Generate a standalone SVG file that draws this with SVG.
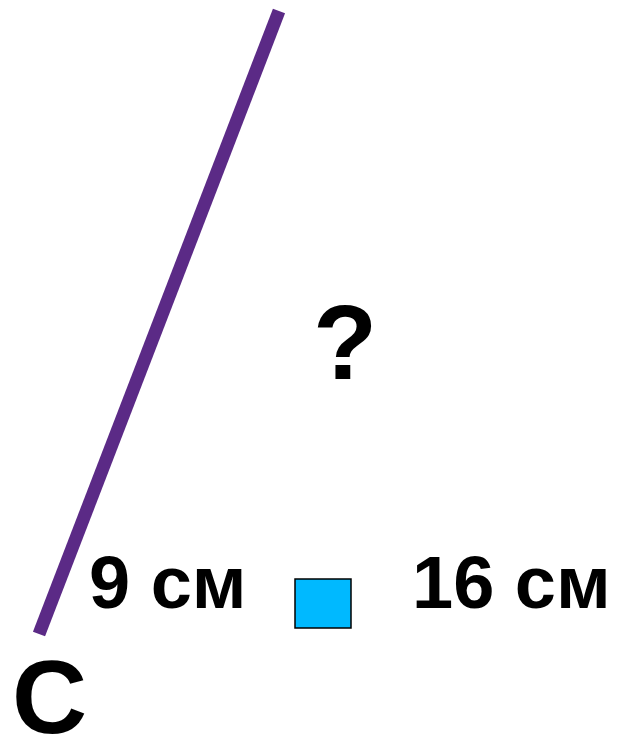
<svg xmlns="http://www.w3.org/2000/svg" width="623" height="744" viewBox="0 0 623 744">
<style>
.t{font-family:"Liberation Sans",Arial,sans-serif;font-weight:bold;fill:#000}
</style>
<rect width="623" height="744" fill="#fff"/>
<g id="connectors">
<line x1="279" y1="11" x2="39" y2="634" stroke="#5B2A86" stroke-width="13"/>
</g>
<g id="question"><text class="t" x="313" y="379" font-size="105">?</text></g>
<g id="label9"><text class="t" x="89" y="608" font-size="74">9 см</text></g>
<g id="right-angle"><rect x="295" y="579" width="56" height="49" fill="#00B9FF" stroke="#000" stroke-width="1.5"/></g>
<g id="label16"><text class="t" x="412" y="608" font-size="74">16 см</text></g>
<g id="labelC"><text class="t" x="12" y="733" font-size="104">С</text></g>
</svg>
